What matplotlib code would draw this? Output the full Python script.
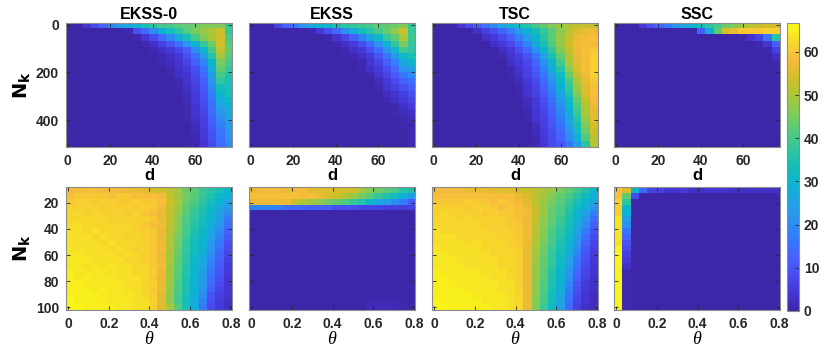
import numpy as np
import matplotlib
matplotlib.use("Agg")
import matplotlib.pyplot as plt
from matplotlib.colors import LinearSegmentedColormap

plt.rcParams['font.family'] = 'Liberation Sans'
plt.rcParams['font.weight'] = 'bold'

# --- data: values (top row: d vs N_k, bottom row: theta vs N_k)
titles = ['EKSS-0', 'EKSS', 'TSC', 'SSC']

d_extent = [-0.8, 77.2]
nk_top_extent = [-7, 513]
theta_extent = [-0.01, 0.805]
nk_bot_extent = [7.75, 102.25]

d_ticks = [0, 20, 40, 60]
nk_top_ticks = [0, 200, 400]
theta_ticks = [0, 0.2, 0.4, 0.6, 0.8]
theta_labels = ['0', '0.2', '0.4', '0.6', '0.8']
nk_bot_ticks = [20, 40, 60, 80, 100]
cbar_ticks = [0, 10, 20, 30, 40, 50, 60]

ekss0_d = [
    "0 0 4 8 13 19 23 26 30 34 37 40 40 42 43 44 46 46 46 38",
    "0 0 0 0 0 0 0 1 9 14 20 28 33 37 42 45 48 50 53 38",
    "0 0 0 0 0 0 0 0 1 4 8 14 20 28 34 40 46 50 54 40",
    "0 0 0 0 0 0 0 0 0 1 3 6 10 15 22 30 38 44 54 42",
    "0 0 0 0 0 0 0 0 0 0 1 3 5 8 12 20 30 40 52 43",
    "0 0 0 0 0 0 0 0 0 0 0 1 3 5 9 15 24 36 49 42",
    "0 0 0 0 0 0 0 0 0 0 0 1 2 4 7 12 19 30 45 40",
    "0 0 0 0 0 0 0 0 0 0 0 0 1 3 5 9 16 27 43 38",
    "0 0 0 0 0 0 0 0 0 0 0 0 1 3 4 8 14 24 40 35",
    "0 0 0 0 0 0 0 0 0 0 0 0 0 1 4 7 12 22 37 34",
    "0 0 0 0 0 0 0 0 0 0 0 0 0 1 3 6 11 20 33 34",
    "0 0 0 0 0 0 0 0 0 0 0 0 0 1 2 5 10 18 30 34",
    "0 0 0 0 0 0 0 0 0 0 0 0 0 0 2 5 9 16 28 31",
    "0 0 0 0 0 0 0 0 0 0 0 0 0 0 1 4 8 15 25 30",
    "0 0 0 0 0 0 0 0 0 0 0 0 0 0 1 4 7 14 22 27",
    "0 0 0 0 0 0 0 0 0 0 0 0 0 0 1 3 6 12 20 25",
    "0 0 0 0 0 0 0 0 0 0 0 0 0 0 0 2 6 11 18 24",
    "0 0 0 0 0 0 0 0 0 0 0 0 0 0 0 2 5 10 16 22",
    "0 0 0 0 0 0 0 0 0 0 0 0 0 0 0 1 5 9 15 21",
    "0 0 0 0 0 0 0 0 0 0 0 0 0 0 0 1 4 8 14 20",
]

ekss_d = [
    "0 0 0 7 12 16 22 26 30 31 34 37 38 39 40 42 43 44 46 38",
    "0 0 0 0 0 0 0 1 5 9 14 21 27 33 36 40 44 48 53 38",
    "0 0 0 0 0 0 0 0 0 1 4 7 12 18 26 31 38 43 50 39",
    "0 0 0 0 0 0 0 0 0 0 1 3 5 9 14 22 30 38 45 38",
    "0 0 0 0 0 0 0 0 0 0 0 1 3 5 9 15 22 31 39 37",
    "0 0 0 0 0 0 0 0 0 0 0 0 1 3 5 10 16 24 31 34",
    "0 0 0 0 0 0 0 0 0 0 0 0 0 1 4 7 12 18 26 30",
    "0 0 0 0 0 0 0 0 0 0 0 0 0 1 3 5 9 14 22 24",
    "0 0 0 0 0 0 0 0 0 0 0 0 0 0 1 4 7 11 16 20",
    "0 0 0 0 0 0 0 0 0 0 0 0 0 0 0 2 5 8 12 15",
    "0 0 0 0 0 0 0 0 0 0 0 0 0 0 0 1 4 6 9 12",
    "0 0 0 0 0 0 0 0 0 0 0 0 0 0 0 0 2 4 6 9",
    "0 0 0 0 0 0 0 0 0 0 0 0 0 0 0 0 1 3 5 7",
    "0 0 0 0 0 0 0 0 0 0 0 0 0 0 0 0 0 1 3 5",
    "0 0 0 0 0 0 0 0 0 0 0 0 0 0 0 0 0 1 2 3",
    "0 0 0 0 0 0 0 0 0 0 0 0 0 0 0 0 0 0 1 2",
    "0 0 0 0 0 0 0 0 0 0 0 0 0 0 0 0 0 0 1 1",
    "0 0 0 0 0 0 0 0 0 0 0 0 0 0 0 0 0 0 0 1",
    "0 0 0 0 0 0 0 0 0 0 0 0 0 0 0 0 0 0 0 1",
    "0 0 0 0 0 0 0 0 0 0 0 0 0 0 0 0 0 0 0 1",
]

tsc_d = [
    "0 0 0 4 8 12 15 20 26 30 33 36 40 43 46 48 51 52 53 52",
    "0 0 0 0 0 3 6 9 13 18 24 29 33 38 42 47 52 55 57 57",
    "0 0 0 0 0 0 3 5 8 12 18 24 30 36 42 48 53 57 58 59",
    "0 0 0 0 0 0 0 3 5 8 13 19 27 34 41 48 54 58 59 58",
    "0 0 0 0 0 0 0 0 3 5 9 14 21 30 38 46 53 57 59 60",
    "0 0 0 0 0 0 0 0 1 4 6 10 16 25 34 43 51 57 59 61",
    "0 0 0 0 0 0 0 0 0 3 5 8 13 21 30 40 50 56 59 61",
    "0 0 0 0 0 0 0 0 0 1 4 7 11 18 27 36 47 55 59 61",
    "0 0 0 0 0 0 0 0 0 1 3 6 10 16 24 32 44 53 58 61",
    "0 0 0 0 0 0 0 0 0 0 2 5 8 14 21 30 40 50 57 60",
    "0 0 0 0 0 0 0 0 0 0 1 4 7 12 19 29 38 48 56 59",
    "0 0 0 0 0 0 0 0 0 0 1 4 6 11 17 26 35 46 55 59",
    "0 0 0 0 0 0 0 0 0 0 0 2 5 9 15 23 32 43 53 58",
    "0 0 0 0 0 0 0 0 0 0 0 2 5 8 13 21 30 41 51 57",
    "0 0 0 0 0 0 0 0 0 0 0 1 4 7 12 19 28 39 50 56",
    "0 0 0 0 0 0 0 0 0 0 0 1 4 6 11 17 26 36 48 56",
    "0 0 0 0 0 0 0 0 0 0 0 0 2 6 10 15 24 34 46 54",
    "0 0 0 0 0 0 0 0 0 0 0 0 2 5 9 14 22 32 44 53",
    "0 0 0 0 0 0 0 0 0 0 0 0 1 5 8 13 20 29 41 52",
    "0 0 0 0 0 0 0 0 0 0 0 0 1 4 8 11 16 24 36 51",
]

ssc_d = [
    "0 0 0 5 9 13 17 22 26 30 34 37 40 44 45 49 52 53 54 54",
    "0 0 0 0 0 0 0 0 0 0 12 28 42 54 57 60 60 60 61 61",
    "0 0 0 0 0 0 0 0 0 0 0 0 0 0 0 1 4 7 16 36",
    "0 0 0 0 0 0 0 0 0 0 0 0 0 0 0 0 0 1 4 12",
    "0 0 0 0 0 0 0 0 0 0 0 0 0 0 0 0 0 0 1 6",
    "0 0 0 0 0 0 0 0 0 0 0 0 0 0 0 0 0 0 0 3",
    "0 0 0 0 0 0 0 0 0 0 0 0 0 0 0 0 0 0 0 1",
    "0 0 0 0 0 0 0 0 0 0 0 0 0 0 0 0 0 0 0 0",
    "0 0 0 0 0 0 0 0 0 0 0 0 0 0 0 0 0 0 0 0",
    "0 0 0 0 0 0 0 0 0 0 0 0 0 0 0 0 0 0 0 0",
    "0 0 0 0 0 0 0 0 0 0 0 0 0 0 0 0 0 0 0 0",
    "0 0 0 0 0 0 0 0 0 0 0 0 0 0 0 0 0 0 0 0",
    "0 0 0 0 0 0 0 0 0 0 0 0 0 0 0 0 0 0 0 0",
    "0 0 0 0 0 0 0 0 0 0 0 0 0 0 0 0 0 0 0 0",
    "0 0 0 0 0 0 0 0 0 0 0 0 0 0 0 0 0 0 0 0",
    "0 0 0 0 0 0 0 0 0 0 0 0 0 0 0 0 0 0 0 0",
    "0 0 0 0 0 0 0 0 0 0 0 0 0 0 0 0 0 0 0 0",
    "0 0 0 0 0 0 0 0 0 0 0 0 0 0 0 0 0 0 0 0",
    "0 0 0 0 0 0 0 0 0 0 0 0 0 0 0 0 0 0 0 0",
    "0 0 0 0 0 0 0 0 0 0 0 0 0 0 0 0 0 0 0 0",
]

ekss0_theta = [
    "58 58 59 59 58 58 58 57 57 56 54 54 52 49 44 42 38 36 34 30",
    "59 60 60 60 60 59 60 60 59 59 59 58 53 49 45 42 38 35 31 29",
    "60 61 61 60 61 61 60 60 61 60 60 59 54 50 44 41 36 33 29 25",
    "61 61 61 61 60 61 61 61 60 61 60 58 53 49 43 39 35 31 27 23",
    "62 62 61 62 61 61 61 60 61 60 59 57 53 48 42 38 34 30 25 20",
    "62 62 62 62 62 61 62 61 61 61 60 57 53 47 41 37 33 29 24 17",
    "62 63 62 62 62 62 61 62 61 60 59 58 52 47 40 36 32 28 22 15",
    "63 63 62 63 62 62 62 62 61 61 60 57 52 46 40 35 31 26 20 13",
    "63 63 63 62 63 62 62 61 62 61 60 57 51 45 39 34 30 25 18 11",
    "63 63 63 63 62 63 62 62 62 61 60 57 51 45 38 33 29 23 16 9",
    "64 63 63 63 63 62 63 62 61 62 60 58 51 44 38 33 28 22 15 8",
    "64 64 63 63 63 63 62 63 62 61 60 57 50 44 37 32 27 21 13 7",
    "64 64 64 63 63 63 63 62 62 61 60 57 50 43 37 31 26 19 12 6",
    "64 64 63 64 63 64 63 63 62 62 60 58 49 43 36 31 25 18 11 5",
    "65 64 64 64 64 63 63 63 62 62 61 57 49 42 36 30 24 16 10 5",
    "65 64 65 64 64 64 63 63 63 62 60 57 49 42 35 30 23 15 9 4",
    "65 65 64 64 64 64 64 63 63 62 61 57 48 41 35 29 22 14 8 4",
    "65 65 65 64 65 64 64 63 63 62 60 57 48 41 35 29 21 12 7 4",
    "65 65 65 65 64 64 64 64 63 62 61 56 48 40 34 28 20 10 6 4",
    "66 65 65 65 65 64 64 64 63 63 61 56 47 40 33 27 18 9 5 3",
    "66 66 65 65 65 65 64 64 63 63 61 56 50 42 34 28 16 8 5 3",
]

ekss_theta = [
    "57 58 58 58 57 58 58 56 56 56 54 54 54 50 46 44 42 40 36 35",
    "59 59 59 59 59 59 58 59 57 55 53 51 48 45 42 38 35 32 29 24",
    "57 57 57 57 57 53 50 49 47 45 43 41 38 36 31 26 24 20 17 11",
    "19 19 19 18 15 14 13 12 12 12 9 9 9 7 7 7 6 6 6 6",
    "0 0 0 0 0 0 0 0 0 0 0 0 0 0 0 0 0 0 0 0",
    "0 0 0 0 0 0 0 0 0 0 0 0 0 0 0 0 0 0 0 0",
    "0 0 0 0 0 0 0 0 0 0 0 0 0 0 0 0 0 0 0 0",
    "0 0 0 0 0 0 0 0 0 0 0 0 0 0 0 0 0 0 0 0",
    "0 0 0 0 0 0 0 0 0 0 0 0 0 0 0 0 0 0 0 0",
    "0 0 0 0 0 0 0 0 0 0 0 0 0 0 0 0 0 0 0 0",
    "0 0 0 0 0 0 0 0 0 0 0 0 0 0 0 0 0 0 0 0",
    "0 0 0 0 0 0 0 0 0 0 0 0 0 0 0 0 0 0 0 0",
    "0 0 0 0 0 0 0 0 0 0 0 0 0 0 0 0 0 0 0 0",
    "0 0 0 0 0 0 0 0 0 0 0 0 0 0 0 0 0 0 0 0",
    "0 0 0 0 0 0 0 0 0 0 0 0 0 0 0 0 0 0 0 0",
    "0 0 0 0 0 0 0 0 0 0 0 0 0 0 0 0 0 0 0 0",
    "0 0 0 0 0 0 0 0 0 0 0 0 0 0 0 0 0 0 0 0",
    "0 0 0 0 0 0 0 0 0 0 0 0 0 0 0 0 0 0 0 0",
    "0 0 0 0 0 0 0 0 0 0 0 0 0 0 0 0 0 0 0 0",
    "0 0 0 0 0 0 0 0 0 0 0 0 0 0 1 1 1 1 0 0",
    "0 0 0 0 0 0 0 0 0 0 0 0 0 0 1.5 1.5 1.5 1.5 1 0",
]

tsc_theta = [
    "58 58 58 58 57 57 57 56 56 56 54 53 52 50 48 45 43 39 35 31",
    "59 59 59 59 59 59 59 59 59 59 57 55 52 49 46 43 40 36 32 29",
    "60 60 60 60 61 60 60 59 60 59 58 56 52 48 45 42 38 34 30 26",
    "61 61 61 61 60 61 61 60 59 60 59 57 53 48 44 41 36 32 28 22",
    "61 62 61 61 61 61 60 61 60 60 59 58 53 48 43 40 35 30 25 18",
    "62 62 62 61 62 61 61 61 61 60 59 57 53 47 43 39 34 29 22 15",
    "62 62 62 62 62 62 61 61 61 60 60 57 52 47 42 38 33 27 20 12",
    "63 62 62 62 62 62 62 61 61 61 60 58 52 46 41 37 32 25 17 10",
    "63 63 63 62 62 62 62 62 61 61 60 57 51 46 40 36 31 23 15 8",
    "63 63 63 63 62 63 62 62 62 61 60 57 51 45 40 35 30 22 13 7",
    "64 63 63 63 63 63 62 62 62 61 61 57 50 44 39 34 28 20 11 6",
    "64 64 63 63 63 63 63 62 62 62 61 57 49 44 38 33 27 18 10 5",
    "64 64 64 63 63 63 63 63 62 62 61 57 49 43 38 32 25 16 9 5",
    "64 64 64 64 63 63 63 63 62 62 61 57 48 43 37 31 24 15 8 4",
    "65 64 64 64 64 64 63 63 63 62 61 57 48 42 36 30 22 13 7 4",
    "65 65 64 64 64 64 64 63 63 62 61 57 48 42 35 30 21 12 6 3",
    "65 65 65 64 64 64 64 64 63 63 61 57 47 41 35 29 19 10 5 3",
    "65 65 65 65 64 64 64 64 63 63 61 57 47 41 34 28 18 9 5 3",
    "65 65 65 65 65 64 64 64 64 63 62 57 47 40 33 27 16 8 4 2",
    "66 65 65 65 65 65 64 64 64 63 62 57 46 40 33 26 15 7 4 2",
    "66 66 65 65 65 65 65 64 64 63 62 57 46 39 32 25 14 6 3 2",
]

ssc_theta = [
    "59 55 30 14 7 6 4 4 5 3 3 4 4 4 3 3 3 3 3 3",
    "59 43 8 0 0 0 0 0 0 0 0 0 0 0 0 0 0 0 0 0",
    "61 37 0 0 0 0 0 0 0 0 0 0 0 0 0 0 0 0 0 0",
    "61 31 0 0 0 0 0 0 0 0 0 0 0 0 0 0 0 0 0 0",
    "61 29 0 0 0 0 0 0 0 0 0 0 0 0 0 0 0 0 0 0",
    "64 24 0 0 0 0 0 0 0 0 0 0 0 0 0 0 0 0 0 0",
    "64 21 0 0 0 0 0 0 0 0 0 0 0 0 0 0 0 0 0 0",
    "64 16 0 0 0 0 0 0 0 0 0 0 0 0 0 0 0 0 0 0",
    "64 13 0 0 0 0 0 0 0 0 0 0 0 0 0 0 0 0 0 0",
    "64 10 0 0 0 0 0 0 0 0 0 0 0 0 0 0 0 0 0 0",
    "66 8 0 0 0 0 0 0 0 0 0 0 0 0 0 0 0 0 0 0",
    "66 6 0 0 0 0 0 0 0 0 0 0 0 0 0 0 0 0 0 0",
    "66 5 0 0 0 0 0 0 0 0 0 0 0 0 0 0 0 0 0 0",
    "66 3 0 0 0 0 0 0 0 0 0 0 0 0 0 0 0 0 0 0",
    "66 1 0 0 0 0 0 0 0 0 0 0 0 0 0 0 0 0 0 0",
    "66 1 0 0 0 0 0 0 0 0 0 0 0 0 0 0 0 0 0 0",
    "66 1 0 0 0 0 0 0 0 0 0 0 0 0 0 0 0 0 0 0",
    "66 1 0 0 0 0 0 0 0 0 0 0 0 0 0 0 0 0 0 0",
    "66 1 0 0 0 0 0 0 0 0 0 0 0 0 0 0 0 0 0 0",
    "66 1 0 0 0 0 0 0 0 0 0 0 0 0 0 0 0 0 0 0",
    "66 1 0 0 0 0 0 0 0 0 0 0 0 0 0 0 0 0 0 0",
]


def grid(rows):
    return np.array([[float(v) for v in r.split()] for r in rows])


# parula-like colormap (sampled from MATLAB's parula)
parula_pts = [
    (0.2422, 0.1504, 0.6603), (0.2704, 0.2138, 0.8346), (0.2813, 0.2985, 0.9397),
    (0.2710, 0.3860, 0.9898), (0.2006, 0.4803, 0.9906), (0.1716, 0.5655, 0.9393),
    (0.1321, 0.6363, 0.8932), (0.0433, 0.7039, 0.8242), (0.0770, 0.7468, 0.7224),
    (0.1954, 0.7765, 0.6225), (0.3301, 0.8002, 0.4876), (0.5044, 0.7993, 0.3480),
    (0.6701, 0.7796, 0.2239), (0.8281, 0.7481, 0.1536), (0.9689, 0.7292, 0.2373),
    (0.9694, 0.8591, 0.1665), (0.9769, 0.9839, 0.0805),
]
parula = LinearSegmentedColormap.from_list('parula', parula_pts, N=256)
vmin, vmax = 0, 66.7

fig = plt.figure(figsize=(8.3, 3.53), dpi=100)
lefts = [0.0795, 0.300, 0.5205, 0.7398]
w = 0.2
top_row = [ekss0_d, ekss_d, tsc_d, ssc_d]
bot_row = [ekss0_theta, ekss_theta, tsc_theta, ssc_theta]

edge = '#262626'


def style(ax):
    ax.tick_params(direction='in', top=True, right=True, length=3, width=0.6,
                   labelsize=10, colors=edge, pad=5)
    for lab in ax.get_xticklabels() + ax.get_yticklabels():
        lab.set_fontweight('bold')
    for s in ax.spines.values():
        s.set_color('#8c8c8c')
        s.set_linewidth(0.8)


for k in range(4):
    ax = fig.add_axes([lefts[k], 0.5836, w, 0.3513])
    im = ax.imshow(grid(top_row[k]), cmap=parula, vmin=vmin, vmax=vmax, aspect='auto',
                   interpolation='nearest', origin='upper',
                   extent=[d_extent[0], d_extent[1], nk_top_extent[1], nk_top_extent[0]])
    ax.set_xticks(d_ticks)
    ax.set_yticks(nk_top_ticks)
    if k > 0:
        ax.set_yticklabels([])
    else:
        ax.set_ylabel(r'$\mathbf{N_k}$', fontsize=14, labelpad=2)
    ax.set_xlabel('d', fontsize=12, fontweight='bold', labelpad=0)
    ax.set_title(titles[k], fontsize=11.5, fontweight='bold', pad=3)
    style(ax)

    ax = fig.add_axes([lefts[k], 0.1218, w, 0.3484])
    ax.imshow(grid(bot_row[k]), cmap=parula, vmin=vmin, vmax=vmax, aspect='auto',
              interpolation='nearest', origin='upper',
              extent=[theta_extent[0], theta_extent[1], nk_bot_extent[1], nk_bot_extent[0]])
    ax.set_xticks(theta_ticks)
    ax.set_xticklabels(theta_labels)
    ax.set_yticks(nk_bot_ticks)
    if k > 0:
        ax.set_yticklabels([])
    else:
        ax.set_ylabel(r'$\mathbf{N_k}$', fontsize=14, labelpad=2)
    ax.set_xlabel('θ', fontsize=13, family='Liberation Serif', style='italic',
                  fontweight='normal', labelpad=0)
    style(ax)

cax = fig.add_axes([0.948, 0.119, 0.0145, 0.816])
cb = fig.colorbar(im, cax=cax, ticks=cbar_ticks)
cb.outline.set_edgecolor('#8c8c8c')
cb.outline.set_linewidth(0.8)
cax.tick_params(direction='in', length=3, width=0.6, labelsize=10, colors=edge)
for lab in cax.get_yticklabels():
    lab.set_fontweight('bold')

fig.savefig('out.png', dpi=100)
